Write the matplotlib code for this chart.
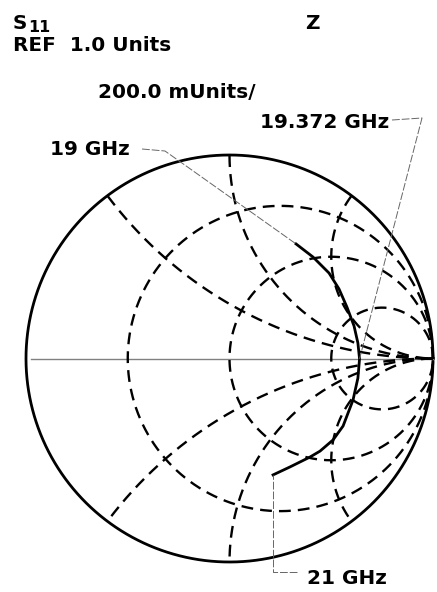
import numpy as np
import matplotlib
matplotlib.use('Agg')
import matplotlib.pyplot as plt

gamma_re = [0.327, 0.410, 0.489, 0.538, 0.577, 0.612, 0.631, 0.639,
            0.631, 0.607, 0.558, 0.509, 0.445, 0.396, 0.297, 0.214]
gamma_im = [0.563, 0.499, 0.420, 0.342, 0.253, 0.160, 0.076, -0.002,
            -0.096, -0.204, -0.332, -0.400, -0.455, -0.484, -0.533, -0.572]

# markers: label and index of the trace point
marker_labels = ['19 GHz', '19.372 GHz', '21 GHz']
marker_index = [0, 7, 15]

# smith grid
r_values = [1 / 3, 1, 3]
x_values = [0.5, 1, 2, -0.5, -1, -2]

W, H = 437, 592
CX, CY, R = 229.5, 358.5, 203.5   # chart centre / radius in pixels

fig = plt.figure(figsize=(W / 100, H / 100), dpi=100)
ax = fig.add_axes([0, 0, 1, 1])
ax.set_xlim(-CX / R, (W - CX) / R)
ax.set_ylim(-(H - CY) / R, CY / R)
ax.axis('off')

dash = (0, (5, 3))
t = np.linspace(0, 2 * np.pi, 1000)

# outer circle
ax.plot(np.cos(t), np.sin(t), color='black', lw=2.0)

# real axis
ax.plot([-0.975, 1.0], [0, 0], color='#808080', lw=1.0)

# constant resistance circles
for r in r_values:
    c = r / (1 + r)
    rad = 1 / (1 + r)
    ax.plot(c + rad * np.cos(t), rad * np.sin(t), color='black', lw=1.7, ls=dash)

# constant reactance arcs, clipped to the unit circle
for x in x_values:
    rad = 1 / abs(x)
    tt = np.linspace(0, 2 * np.pi, 3000)
    xs = 1 + rad * np.cos(tt)
    ys = 1 / x + rad * np.sin(tt)
    inside = xs ** 2 + ys ** 2 <= 1.0001
    xs = np.where(inside, xs, np.nan)
    ys = np.where(inside, ys, np.nan)
    # start the line at a gap so it is drawn in one piece
    k = np.argmax(~inside)
    xs = np.roll(xs, -k)
    ys = np.roll(ys, -k)
    ax.plot(xs, ys, color='black', lw=1.7, ls=dash)

# trace
ax.plot(gamma_re, gamma_im, color='black', lw=2.0)


def to_data(px, py):
    return (px - CX) / R, (CY - py) / R


lead = dict(color='#666666', lw=0.7, ls=(0, (8, 2)))

# leader lines
m0 = (gamma_re[marker_index[0]], gamma_im[marker_index[0]])
p1 = to_data(142, 149)
p2 = to_data(165, 151)
ax.plot([p1[0], p2[0], m0[0]], [p1[1], p2[1], m0[1]], **lead)

m1 = (gamma_re[marker_index[1]], gamma_im[marker_index[1]])
p1 = to_data(392, 120)
p2 = to_data(422, 118)
ax.plot([p1[0], p2[0], m1[0]], [p1[1], p2[1], m1[1]], **lead)

m2 = (gamma_re[marker_index[2]], gamma_im[marker_index[2]])
p1 = to_data(297, 572)
p2 = to_data(m2[0] * R + CX, 572)
ax.plot([p1[0], p2[0], m2[0]], [p1[1], p2[1], m2[1]], **lead)


def label(px, py, s, size=14.4):
    return fig.text(px / W, 1 - py / H, s, fontsize=size, fontweight='bold',
                    family='DejaVu Sans', va='baseline', ha='left')


s_txt = label(13, 29, 'S', 14.4)
fig.canvas.draw()
s_right = s_txt.get_window_extent().x1
label(s_right + 1, 32, '11', 11.5)
label(305, 29, 'Z')
label(13, 51, 'REF  1.0 Units')
label(98, 98, '200.0 mUnits/')
label(260, 128, marker_labels[1])
label(50, 155, marker_labels[0])
label(307, 584, marker_labels[2])

fig.savefig('out.png', dpi=100)
